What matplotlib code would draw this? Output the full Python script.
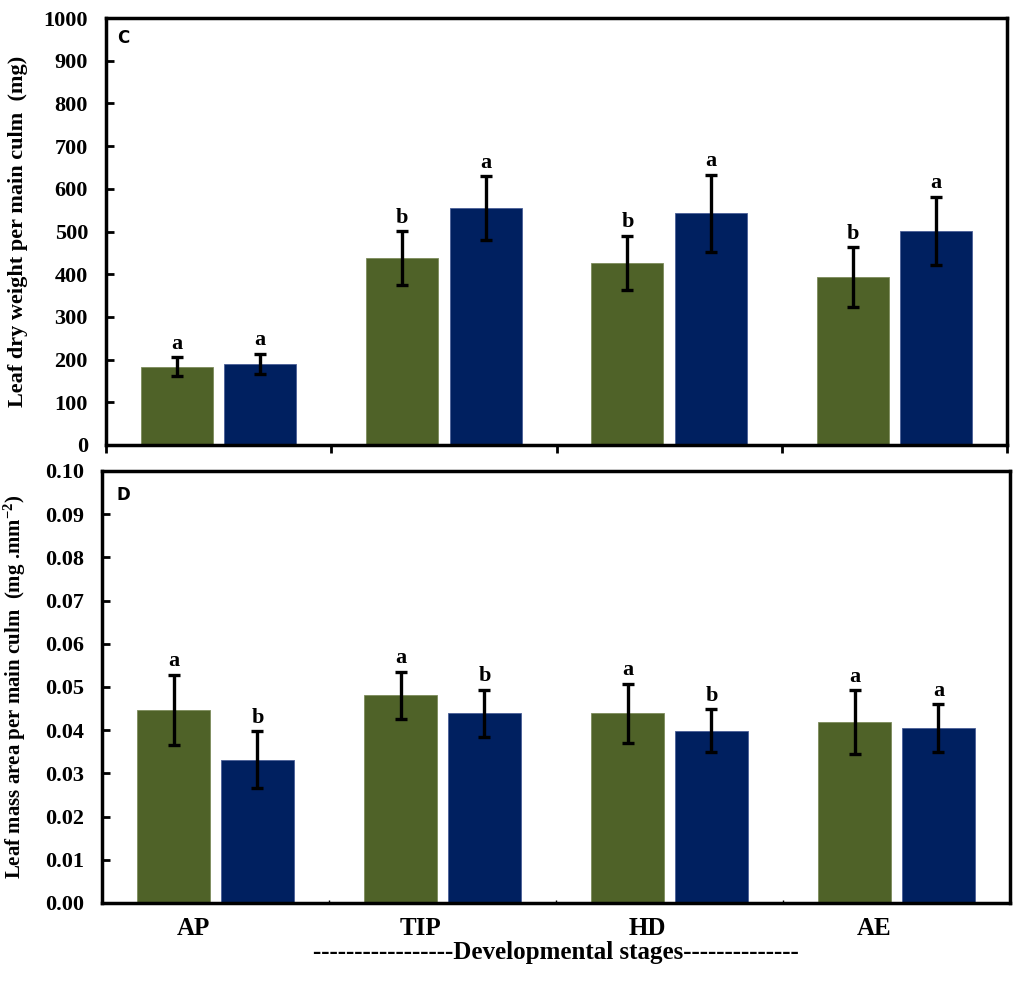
import numpy as np
import matplotlib
matplotlib.use("Agg")
import matplotlib.pyplot as plt
from matplotlib.transforms import ScaledTranslation

plt.rcParams['font.family'] = ['Liberation Serif', 'DejaVu Serif']
plt.rcParams['font.weight'] = 'bold'
plt.rcParams['mathtext.fontset'] = 'custom'
plt.rcParams['mathtext.rm'] = 'Liberation Serif:bold'
plt.rcParams['mathtext.bf'] = 'Liberation Serif:bold'
plt.rcParams['mathtext.default'] = 'rm'

# data
stages = ['AP', 'TIP', 'HD', 'AE']

dry_green = [183, 438, 426, 393]
dry_green_err = [22, 63, 64, 70]
dry_blue = [190, 555, 543, 501]
dry_blue_err = [24, 74, 90, 80]
dry_green_sig = ['a', 'b', 'b', 'b']
dry_blue_sig = ['a', 'a', 'a', 'a']

lma_green = [0.0447, 0.0481, 0.0439, 0.0419]
lma_green_err = [0.0081, 0.0054, 0.0069, 0.0073]
lma_blue = [0.0332, 0.0439, 0.0399, 0.0405]
lma_blue_err = [0.0066, 0.0055, 0.0050, 0.0055]
lma_green_sig = ['a', 'a', 'a', 'a']
lma_blue_sig = ['b', 'b', 'b', 'a']

GREEN = '#4F6228'
BLUE = '#002060'
width = 0.32
off = 0.185

fig = plt.figure(figsize=(10.24, 9.9), dpi=100)
ax1 = fig.add_axes([106/1024, 1 - 445/990, 901/1024, 427/990])
ax2 = fig.add_axes([102/1024, 1 - 903/990, 908/1024, 432/990])

x = np.arange(len(stages))


def draw(ax, g, ge, b, be, gs, bs, ymax, step, fmt):
    ekw = dict(ecolor='black', elinewidth=2.4, capsize=4.5, capthick=2.4)
    ax.bar(x - off, g, width, color=GREEN, edgecolor='#7d8c5c', linewidth=0.6,
           yerr=ge, error_kw=ekw, zorder=2)
    ax.bar(x + off, b, width, color=BLUE, edgecolor='#4a5f96', linewidth=0.6,
           yerr=be, error_kw=ekw, zorder=2)
    for i in range(len(x)):
        ax.annotate(gs[i], (x[i] - off, g[i] + ge[i]), xytext=(0, 2.5),
                    textcoords='offset points', ha='center', va='bottom',
                    fontsize=16, fontweight='bold')
        ax.annotate(bs[i], (x[i] + off, b[i] + be[i]), xytext=(0, 2.5),
                    textcoords='offset points', ha='center', va='bottom',
                    fontsize=16, fontweight='bold')
    ax.set_xlim(-0.5, len(x) - 0.5)
    ax.set_ylim(0, ymax)
    yt = np.arange(0, ymax + step / 2, step)
    ax.set_yticks(yt)
    ax.set_yticklabels([fmt.format(v) for v in yt])
    ax.set_xticks(np.arange(-0.5, len(x), 1.0))
    ax.set_xticklabels([])
    for s in ax.spines.values():
        s.set_linewidth(2.5)
    ax.tick_params(axis='y', direction='in', length=6, width=2, labelsize=16, pad=13)
    for lab in ax.get_yticklabels():
        lab.set_fontweight('bold')


draw(ax1, dry_green, dry_green_err, dry_blue, dry_blue_err,
     dry_green_sig, dry_blue_sig, 1000, 100, '{:.0f}')
draw(ax2, lma_green, lma_green_err, lma_blue, lma_blue_err,
     lma_green_sig, lma_blue_sig, 0.10, 0.01, '{:.2f}')

ax1.tick_params(axis='x', direction='out', length=6, width=2)
ax2.tick_params(axis='x', direction='in', length=2, width=1)

# stage labels sit a bit left of the group centres
ax2.set_xticks(x, minor=True)
ax2.set_xticklabels(stages, minor=True)
ax2.tick_params(axis='x', which='minor', length=0, labelsize=18, pad=10)
shift = ScaledTranslation(-22 / 100, 0, fig.dpi_scale_trans)
for lab in ax2.get_xticklabels(minor=True):
    lab.set_fontweight('bold')
    lab.set_transform(lab.get_transform() + shift)

ax1.set_ylabel('Leaf dry weight per main culm  (mg)', fontsize=16,
               fontweight='bold', labelpad=11)
ax2.set_ylabel(r'Leaf mass area per main culm  (mg .mm$^{-2}$)', fontsize=15,
               fontweight='bold', labelpad=12)
ax2.set_xlabel('-----------------Developmental stages--------------',
               fontsize=18, fontweight='bold', labelpad=1)

ax1.text(0.012, 0.975, 'C', transform=ax1.transAxes, ha='left', va='top',
         fontsize=12, fontweight='bold', family='DejaVu Sans')
ax2.text(0.016, 0.965, 'D', transform=ax2.transAxes, ha='left', va='top',
         fontsize=12, fontweight='bold', family='DejaVu Sans')

fig.savefig('out.png', dpi=100)
